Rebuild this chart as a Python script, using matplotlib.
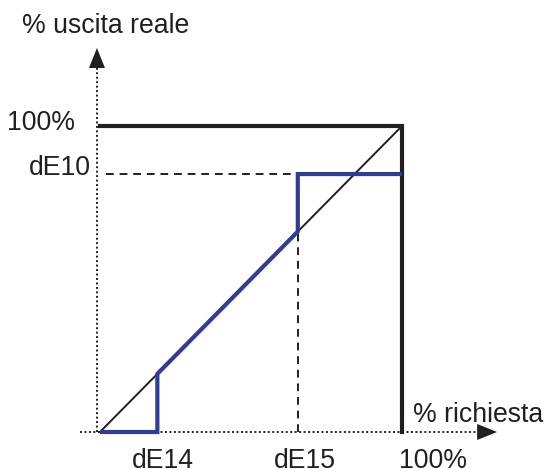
import matplotlib
matplotlib.use('Agg')
import matplotlib.pyplot as plt

# parameter values (% of full scale)
dE14 = 19
dE15 = 65.5
dE10 = 84.3
full = 100

# blue characteristic: requested % -> real output %
req = [0, dE14, dE14, dE15, dE15, full]
out = [0, 0, dE14, dE15, dE10, dE10]

black = '#231f20'
blue = '#313c97'

plt.rcParams['font.family'] = ['Liberation Sans', 'DejaVu Sans']

fig = plt.figure(figsize=(5.45, 4.70), dpi=100)
ax = fig.add_axes([0, 0, 1, 1])
ax.set_xlim(-33.1, 147.35)
ax.set_ylim(-12.42, 141.18)
ax.axis('off')

# dotted axes with arrow heads
ax.plot([-6.6, 126], [0, 0], color=black, lw=1.4, ls=(0, (1, 1.3)))
ax.plot([-1, -1], [0, 119.5], color=black, lw=1.4, ls=(0, (1, 1.3)))
arrow = dict(arrowstyle='-|>,head_length=1.0,head_width=0.4', color=black,
             lw=0, shrinkA=0, shrinkB=0, mutation_scale=14.4)
ax.annotate('', xy=(131.5, 0), xytext=(125.8, 0), arrowprops=arrow)
ax.annotate('', xy=(-1, 125.5), xytext=(-1, 119), arrowprops=arrow)

# dashed guides
ax.plot([2, dE15], [dE10, dE10], color=black, lw=1.4, ls=(0, (4, 3)))
ax.plot([dE15, dE15], [0, dE15], color=black, lw=1.4, ls=(0, (4, 3)))

# ideal diagonal and 100% frame
ax.plot([0, full], [0, full], color=black, lw=1.4)
ax.plot([0, full, full], [full, full, 0], color=black, lw=3, solid_joinstyle='miter')

ax.plot(req, out, color=blue, lw=3, solid_joinstyle='miter', solid_capstyle='butt')

fs = 19.2
ax.text(-25.8, 130.4, '% uscita reale', fontsize=fs, color=black, va='baseline')
ax.text(103.6, 3.3, '% richiesta', fontsize=fs, color=black, va='baseline')
ax.text(-8.3, 101, '100%', fontsize=fs, color=black, ha='right', va='center')
ax.text(-3, 86.3, 'dE10', fontsize=fs, color=black, ha='right', va='center')
ax.text(dE14 + 1.7, -5.2, 'dE14', fontsize=fs, color=black, ha='center', va='top')
ax.text(dE15 + 2.3, -5.2, 'dE15', fontsize=fs, color=black, ha='center', va='top')
ax.text(full + 10.3, -5.2, '100%', fontsize=fs, color=black, ha='center', va='top')

fig.savefig('out.png', dpi=100)
